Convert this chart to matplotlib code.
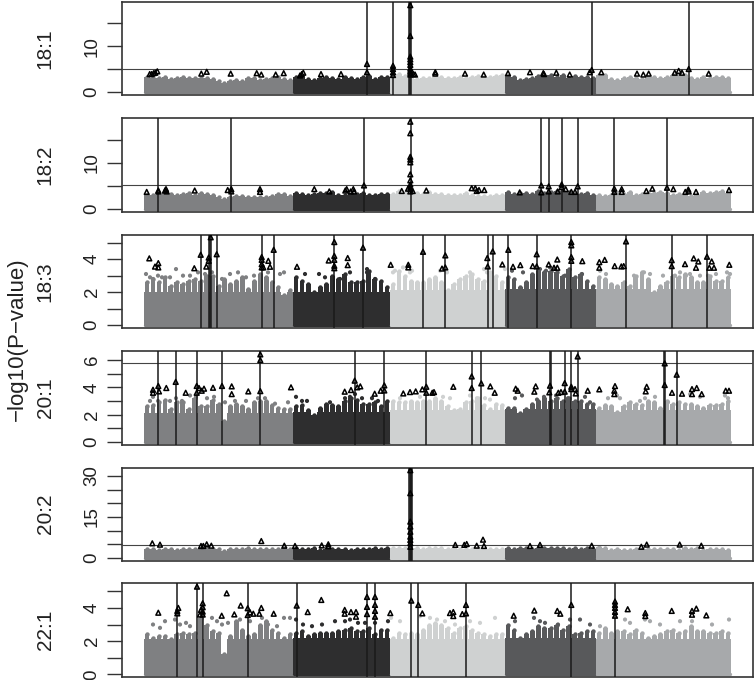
import numpy as np
import matplotlib
matplotlib.use('Agg')
import matplotlib.pyplot as plt

plt.rcParams['font.family'] = ['Liberation Sans', 'DejaVu Sans']

# genome position runs 121.5 .. 753 on the x axis, chromosome blocks below
chrom_edges = [144, 293, 390, 505, 596, 731]
chrom_colors = ['#7f8082', '#2e2e2f', '#cfd1d1', '#58595b', '#a7a9ab']

# top of the cloud, per chromosome
env_181 = [[3.2,3.1,3.0,3.2,2.9,3.0,3.2,3.0,3.1,3.0,3.0,2.9,2.4,2.0,2.5,2.6,2.5,3.0,3.1,2.6,2.8,3.1,3.2,2.9,2.7],
           [3.2,3.3,2.9,2.7,3.1,3.3,3.0,2.9,3.2,3.1,2.8,3.3,3.4,2.8,3.2,3.3],
           [3.3,3.9,3.5,3.4,2.9,3.0,3.1,3.3,3.2,3.0,3.0,3.3,3.1,3.3,3.4,3.2,3.3,3.5,3.6],
           [3.5,3.2,2.6,2.8,3.0,3.5,3.4,3.6,3.2,3.6,3.1,3.5,3.3,3.2,3.1],
           [3.8,3.6,2.9,2.7,3.0,3.2,3.0,2.9,3.3,3.2,3.1,3.3,3.7,3.6,3.6,3.0,2.9,3.2,3.1,3.3,3.2,3.0]]
env_182 = [[3.0,3.1,3.2,3.5,3.3,3.0,3.3,3.4,3.1,3.4,3.3,3.0,2.6,2.1,2.5,2.8,2.9,2.6,2.7,2.5,2.6,2.9,3.2,3.2,2.9],
           [3.4,3.3,3.1,3.2,3.4,3.5,3.6,3.1,3.0,3.2,3.3,3.4,3.0,3.1,3.3,3.2],
           [3.3,3.9,3.5,3.8,3.4,3.2,3.6,3.3,3.2,3.1,3.0,3.1,3.4,3.0,2.9,2.8,2.9,3.0,3.1],
           [3.7,3.2,3.4,3.5,3.3,3.8,3.4,3.6,3.9,3.8,3.7,3.2,3.3,3.4,3.1],
           [3.0,2.8,3.1,3.5,3.3,3.6,3.0,3.2,3.4,3.5,3.6,3.5,3.1,3.3,3.0,2.9,3.1,3.6,3.4,3.7,3.8,3.4]]
env_183 = [[2.6,2.8,2.6,2.9,2.4,2.6,2.5,2.7,2.8,2.7,3.0,3.0,2.4,2.8,2.5,2.7,2.9,2.2,2.7,3.1,2.9,2.6,2.3,1.8,2.1],
           [2.9,2.7,2.5,2.0,2.3,2.5,3.0,2.8,3.1,2.6,2.6,2.7,3.3,2.8,2.7,2.3],
           [2.5,3.3,3.0,2.7,2.6,2.6,2.8,2.9,2.6,2.1,2.5,2.8,3.0,3.1,2.8,2.7,3.2,3.0,2.6],
           [2.9,2.8,2.3,2.6,3.1,3.3,3.2,3.3,3.2,3.0,3.4,2.9,3.1,2.7,2.4],
           [2.9,2.8,2.5,2.4,2.6,2.4,3.0,3.2,2.8,2.0,2.4,2.6,3.0,2.9,3.1,2.9,2.6,2.6,3.0,2.7,2.7,2.9]]
env_201 = [[2.6,2.7,2.9,3.1,2.4,2.9,2.9,2.4,3.2,2.6,2.6,3.1,2.8,1.5,2.6,2.8,2.6,2.4,2.9,3.0,3.0,2.7,2.5,2.4,2.4],
           [2.6,2.7,2.3,2.0,2.5,2.8,2.7,2.6,3.0,3.2,3.1,2.8,2.8,2.9,2.6,3.0],
           [3.0,2.9,2.9,3.0,2.9,3.0,3.0,3.2,3.0,2.6,2.3,2.4,2.9,3.0,3.2,2.7,2.4,2.8,2.7],
           [2.5,2.5,2.1,2.4,2.8,3.0,3.2,3.0,3.2,3.0,3.2,3.0,3.0,2.8,2.8],
           [2.5,2.7,2.6,2.2,2.6,2.9,2.8,2.7,3.0,2.9,2.5,3.0,2.8,2.9,2.8,2.8,2.6,2.5,2.7,2.7,2.8,3.0]]
env_202 = [[3.2,3.3,3.1,3.2,3.3,3.1,3.2,3.3,3.4,3.3,3.2,3.3,3.4,2.4,3.2,3.2,3.4,3.5,3.3,3.4,3.3,3.4,3.4,3.6,3.2],
           [3.6,3.4,3.3,3.5,2.9,3.2,3.4,3.2,3.3,3.0,3.3,3.2,3.4,3.6,3.2,3.7],
           [3.7,3.5,3.6,3.4,3.5,3.3,3.6,3.5,3.7,3.4,3.6,3.3,3.3,3.4,3.5,3.3,3.2,3.3,3.3],
           [3.5,3.4,3.5,3.7,3.4,3.6,3.8,3.5,3.7,3.5,3.4,3.6,3.3,3.7,3.4],
           [4.0,3.6,2.9,3.2,3.1,3.0,3.2,3.2,3.4,3.2,3.3,3.2,3.4,3.1,3.5,3.3,3.5,3.1,3.4,3.2,3.3,3.1]]
env_221 = [[2.4,2.2,2.3,2.3,2.1,2.4,2.5,2.4,2.5,3.4,3.0,2.6,2.5,1.2,2.3,3.2,2.7,2.3,2.4,3.0,3.2,2.7,2.5,2.2,2.4],
           [2.5,2.6,2.3,2.4,2.5,2.5,2.5,2.6,2.7,2.8,2.6,2.6,2.8,2.4,2.7,2.7],
           [2.2,2.5,2.4,2.5,2.4,2.7,3.0,3.1,3.0,2.8,2.5,2.8,2.9,2.7,2.5,2.4,2.3,2.4,2.4],
           [3.0,2.7,2.2,2.4,2.6,2.9,2.8,2.8,3.0,2.7,2.9,2.4,2.5,2.6,2.6],
           [2.5,2.8,2.5,2.6,2.6,2.4,2.7,2.5,2.2,2.3,2.4,2.6,2.7,2.5,2.6,2.9,2.6,2.6,2.5,2.5,2.6,2.5]]

# height the points fill solidly, per chromosome (None = the whole cloud is solid)
solid_183 = [2.0, 2.0, 2.1, 2.2, 2.2]
solid_201 = [2.1, 2.2, 2.3, 2.4, 2.3]
solid_221 = [2.1, 2.2, 2.15, 2.2, 2.1]

# loose dots above the cloud
dots_183_x = [146,150,153,158,162,170,176,183,190,198,205,212,222,230,238,246,254,268,280,284,305,319,325,340,350,367,367,375,393,395,403,410,412,440,447,470,484,487,505,512,523,540,546,550,555,565,582,600,606,634,642,644,650,663,675,680,686,690,700,708,716,727,730]
dots_183_y = [3.1,2.9,2.8,3.0,2.9,2.9,3.4,3.0,3.0,3.2,3.1,3.2,2.8,3.1,3.2,2.9,3.0,3.2,3.1,3.2,3.1,3.1,2.9,2.8,3.2,3.4,3.2,2.8,3.2,3.3,3.5,3.2,3.3,3.3,3.2,3.2,3.4,3.2,3.4,3.3,3.2,3.4,3.3,3.5,3.4,3.0,3.1,3.3,3.1,3.0,3.0,3.2,3.1,3.0,3.0,3.2,3.0,3.1,3.0,3.0,3.1,3.2,3.1]
dots_201_x = [150,153,158,170,176,182,190,196,207,214,225,235,246,258,265,275,288,296,302,307,330,345,350,355,362,372,378,400,420,443,450,470,477,485,490,515,522,537,544,556,568,585,590,608,617,620,640,645,655,668,690,700,725,728]
dots_201_y = [3.0,3.3,3.0,3.0,3.2,3.0,3.4,3.3,3.2,3.3,2.9,3.0,3.0,3.2,3.2,2.8,2.9,3.3,3.0,3.0,2.9,3.2,3.3,3.5,3.2,3.2,3.0,3.2,3.3,3.3,3.2,3.4,3.2,3.2,3.1,3.2,3.4,3.1,3.3,3.4,3.2,3.3,2.9,3.2,3.4,3.2,3.0,3.2,3.3,2.9,3.5,3.3,3.4,3.2]
dots_221_x = [153,160,165,175,180,186,190,212,217,222,228,240,250,262,268,277,284,290,296,303,312,322,335,345,350,358,365,375,388,391,400,420,430,437,445,455,470,480,495,515,534,540,545,558,570,580,590,600,625,630,645,650,660,680,692,712,729]
dots_221_y = [3.0,2.8,3.2,3.3,3.0,3.1,2.9,3.4,3.2,3.0,3.1,3.3,3.2,3.4,3.0,2.9,3.4,3.4,3.3,3.0,2.9,3.0,3.2,3.2,3.3,3.1,3.1,3.1,3.2,3.4,3.2,3.5,3.4,3.3,3.2,3.0,3.2,3.1,3.4,3.2,3.4,3.2,3.1,3.0,3.3,3.3,3.0,2.9,3.3,3.1,3.3,3.2,3.0,3.2,3.2,3.0,3.3]

# triangles
hits_181_x = [149.7,151.7,153.7,155.3,157.3,201.3,206.7,230.7,256.7,261.3,275.7,283.7,300,301.7,303.3,321,341,367,367,393,393,393,393,410.3,410.3,410.3,410.3,410.3,410.3,410.3,410.3,410.3,410.3,413.3,415,435.3,435.3,465,483.7,508,530,543.3,544,556.3,569.7,589.7,591.7,601.3,637,643.3,648.7,674.7,678.7,682,688.7,708.7]
hits_181_y = [3.9,3.9,4.1,4.2,4.5,4.0,4.4,4.0,4.1,3.8,3.8,4.1,3.6,3.9,4.2,3.9,3.9,6.1,4.3,5.7,5.0,4.3,3.7,18.9,12.2,7.7,7.1,6.5,5.9,5.1,4.6,4.2,3.8,3.9,3.8,4.3,4.0,4.0,3.8,4.1,4.3,4.1,3.9,4.2,3.8,4.3,4.8,4.3,4.0,3.8,4.0,4.2,4.6,4.2,5.0,4.0]
hits_182_x = [146.7,158.3,158.3,165,166,166.7,194.7,227.7,231.3,231.3,260,260,314.3,329.3,345.3,346.7,350.7,353.3,354,364,410.3,410.3,410.3,410.3,410.3,410.3,410.3,410.3,410.3,410.3,410.3,408,401.7,412.7,426.3,471.7,475.3,476.7,479,484.3,519.7,541.3,541.3,548.7,548.7,557.7,561.7,561.7,565.7,571.3,575,577.7,614.3,614.3,621.7,621.7,646.3,652.3,667,673.3,685.3,688.3,688.7,696,729]
hits_182_y = [3.7,3.8,4.0,4.0,4.3,3.8,4.0,4.1,4.3,3.8,4.3,3.7,4.3,3.8,4.0,4.3,3.8,4.3,3.8,5.1,18.9,16.4,11.3,10.7,10.1,7.5,6.2,5.3,4.8,4.3,3.8,4.4,3.9,3.9,4.0,4.5,4.5,3.9,4.1,4.1,3.6,5.1,3.6,4.9,3.8,3.8,5.3,4.7,4.3,3.7,3.7,4.9,4.4,3.7,4.3,3.7,3.9,4.4,4.6,4.3,3.7,4.2,3.8,3.7,4.1]
hits_183_x = [149.3,155,158.3,158.3,194.3,200.7,206.3,208.7,208.7,210.7,216.7,261.7,261.7,261.7,261.7,263.3,268.3,270,273.7,297,328.7,334.3,334.3,334.3,334.3,334.3,347.7,347.7,363,390.7,408.3,408.3,423,442,445.3,445.3,487.3,487.7,492.7,502.3,508.3,513,520.3,532.7,536.7,536.7,548.7,554,557.3,557.3,571.3,571.3,571.3,571.3,582.3,599.3,599.3,604.7,614.7,621.3,623.7,626,671.7,671.7,685,693.7,696,698.3,707,709.3,711.7,714,729.3]
hits_183_y = [4.05,3.55,3.76,3.5,3.45,4.27,3.55,4.1,3.9,5.33,4.3,4.13,3.96,3.7,3.5,3.5,3.9,3.54,4.57,3.54,3.92,5.04,4.2,3.96,3.6,3.45,4.07,3.64,4.7,3.66,3.66,3.5,4.45,3.43,4.23,3.5,4.07,3.56,4.47,3.68,4.57,3.54,3.64,3.58,4.3,3.56,3.68,3.48,3.98,3.48,5.04,4.84,4.13,3.9,3.88,3.82,3.48,3.96,3.58,3.56,3.58,5.08,3.94,3.58,3.7,4.05,3.48,3.86,4.15,3.48,3.86,3.48,3.66]
hits_201_x = [153,153,158.3,159,166.3,175.7,185.7,196.7,196.7,199,201.7,204,213,222,231.7,231.7,248.3,260.3,260.3,260.3,291,344.7,351,354.7,357.3,360.3,374.7,380.7,384.3,384.3,403.3,410,415.7,422.3,426.3,426.3,432.3,434,453.3,471.7,471.7,481.3,490.3,494.7,515.7,517.7,534.3,535.7,549.3,550,558.3,561,564.7,564.7,571.3,571.3,575,577.7,575.7,587.7,599.3,615,614.3,614.3,646.7,645.7,664.7,664.7,676.7,672,682,692,692,696.7,701.7,725.7,729]
hits_201_y = [3.82,3.6,4.1,3.7,3.95,4.4,3.6,4.1,3.6,3.95,3.75,3.9,3.97,4.1,4.07,3.5,3.7,6.42,6.0,3.72,4.0,3.68,3.8,4.49,4.0,4.07,3.53,3.75,4.14,3.77,3.55,3.65,3.7,3.85,4.04,3.6,3.6,3.65,4.04,4.8,3.95,4.29,4.07,3.6,3.9,3.75,3.68,4.07,3.63,4.12,3.6,3.65,4.31,3.68,4.04,3.87,3.87,6.27,3.55,3.75,3.85,4.09,3.75,3.5,4.04,3.7,5.76,4.17,4.93,3.6,3.53,3.87,3.5,3.95,3.5,3.75,3.75]
hits_202_x = [152.3,160,201,203.3,206.7,211.3,261.3,284.3,295,321.7,328.3,328.3,410.3,410.3,410.3,410.3,410.3,410.3,410.3,410.3,410.3,455.3,464.3,466.7,476.7,483,484,530,540,591.7,641.3,646.7,679.7,701.3]
hits_202_y = [5.37,4.88,4.4,4.4,5.0,4.5,6.2,4.5,4.4,4.6,5.0,4.3,32.1,23.7,13.3,11.5,9.6,7.8,6.6,5.4,4.1,4.8,4.8,5.1,4.5,6.7,4.4,4.4,4.8,4.5,4.1,4.9,4.9,4.5]
hits_221_x = [158.3,177.3,178.3,177.3,197,200,201,202.7,202.7,202.7,202.7,226.7,221.7,234.3,240.7,247.7,247.7,250,253.3,259.3,261.3,273.7,296.7,307.7,321.3,344.7,344.7,351,356,356,367,367,367,375,375,375,375,390.3,411.3,418.3,422.3,450,453.3,453.3,462.3,466,466,513.7,534.3,557.3,560.3,571.3,615,615,615,615,615,627.7,645.3,645.3,671.7,692,692,696.3,706.3]
hits_221_y = [3.71,3.67,4.0,3.82,5.28,3.6,3.88,4.28,4.04,3.78,3.6,4.88,3.53,3.61,4.14,3.98,3.57,3.73,3.65,3.65,4.0,3.65,4.14,3.75,4.48,3.88,3.65,3.75,3.75,3.47,4.66,4.06,3.63,4.66,4.18,3.82,3.47,3.69,4.44,4.18,3.67,3.69,3.75,3.51,3.63,4.18,3.67,3.53,3.84,3.82,3.65,4.18,4.38,4.18,4.0,3.76,3.53,3.92,3.69,3.51,3.82,3.82,3.59,3.96,3.55]

# vertical hit lines
lines_181 = [367, 393, 409.3, 410.2, 411.1, 591.7, 688.7]
lines_182 = [158.3, 231.3, 364, 410.5, 541.3, 548.7, 561.7, 577.7, 614.3, 667]
lines_183 = [200.7, 208.7, 209.7, 210.7, 216.7, 261.7, 273.7, 334.3, 363, 423, 445, 487.7, 492.7, 508.3, 536.7, 571.3, 626, 671.7, 707]
lines_201 = [158.3, 175.7, 196.7, 222, 260.3, 354.7, 384.3, 426.3, 471.7, 481.3, 549.5, 550.5, 564.7, 571.3, 577.7, 664.3, 665.2, 676.7]
lines_202 = [409, 409.8, 410.6, 411.4, 412]
lines_221 = [177.3, 197, 202.7, 247.7, 296.7, 367, 375, 411.3, 418.3, 466, 571.3, 615]

names = ['18:1', '18:2', '18:3', '20:1', '20:2', '22:1']
envs = [env_181, env_182, env_183, env_201, env_202, env_221]
solids = [None, None, solid_183, solid_201, None, solid_221]
dots = [None, None, (dots_183_x, dots_183_y), (dots_201_x, dots_201_y), None, (dots_221_x, dots_221_y)]
hits = [(hits_181_x, hits_181_y), (hits_182_x, hits_182_y), (hits_183_x, hits_183_y),
        (hits_201_x, hits_201_y), (hits_202_x, hits_202_y), (hits_221_x, hits_221_y)]
vlines = [lines_181, lines_182, lines_183, lines_201, lines_202, lines_221]
thresholds = [5.0, 5.15, None, 5.76, 4.65, None]
ylims = [(-0.65, 19.7), (-0.65, 19.7), (-0.18, 5.5), (-0.24, 6.67), (-1.1, 33.1), (-0.16, 5.5)]
yticks = [[0, 5, 10, 15], [0, 5, 10, 15], [0, 1, 2, 3, 4, 5], [0, 1, 2, 3, 4, 5, 6],
          [0, 5, 10, 15, 20, 25, 30], [0, 1, 2, 3, 4, 5]]
ylabels = [[0, 10], [0, 10], [0, 2, 4], [0, 2, 4, 6], [0, 15, 30], [0, 2, 4]]
tops = [1.5, 118, 234.5, 351, 467.5, 583]
bottoms = [95, 212, 328, 445, 561, 677]

W, H = 755, 680
fig = plt.figure(figsize=(W / 100, H / 100), dpi=100)

for i in range(6):
    ax = fig.add_axes([121.5 / W, 1 - bottoms[i] / H, (753 - 121.5) / W, (bottoms[i] - tops[i]) / H])
    ax.set_xlim(121.5, 753)
    ax.set_ylim(*ylims[i])

    for c in range(5):
        h = np.array(envs[i][c])
        left, right = chrom_edges[c], chrom_edges[c + 1]
        edges = np.linspace(left, right, len(h) + 1)
        mids = (edges[:-1] + edges[1:]) / 2
        bin_w = edges[1] - edges[0]
        col = chrom_colors[c]
        if solids[i] is None:
            ax.bar(mids, h, width=bin_w, color=col, linewidth=0, zorder=2)
        else:
            # solid part, then spikes up to the cloud top
            ax.bar(mids, np.minimum(h, solids[i][c]), width=bin_w, color=col, linewidth=0, zorder=2)
            ax.bar(mids, h, width=bin_w * 0.78, color=col, linewidth=0, zorder=2)
        ax.plot([left + 1, right - 1], [0, 0], color=col, lw=2.4, solid_capstyle='round', zorder=2)
        ax.scatter(mids, h, s=10, color=col, linewidths=0, zorder=2)

    if dots[i] is not None:
        dx = np.array(dots[i][0])
        idx = np.clip(np.searchsorted(chrom_edges, dx) - 1, 0, 4)
        ax.scatter(dx, dots[i][1], s=9, c=[chrom_colors[k] for k in idx], linewidths=0, zorder=2)

    if thresholds[i] is not None:
        ax.axhline(thresholds[i], color='#444444', lw=0.8, zorder=3)
    for x in vlines[i]:
        ax.axvline(x, color='#1a1a1a', lw=1.1, zorder=4)
    ax.scatter(hits[i][0], hits[i][1], marker='^', s=12, facecolors='none', edgecolors='black',
               linewidths=1.1, zorder=5)

    for s in ax.spines.values():
        s.set_color('#333333')
        s.set_linewidth(1.2)
    ax.set_xticks([])
    ax.set_yticks(yticks[i])
    ax.set_yticklabels([str(t) if t in ylabels[i] else '' for t in yticks[i]],
                       rotation=90, va='center', fontsize=13.5, color='#222222')
    ax.tick_params(axis='y', length=11, width=1.0, color='#333333', pad=4)
    ax.text(45 / W, 1 - (tops[i] + bottoms[i]) / 2 / H, names[i], transform=fig.transFigure, rotation=90,
            ha='center', va='center', fontsize=15, color='#222222')

fig.text(17 / W, 1 - 339 / H, '\u2212log10(P\u2212value)', rotation=90, ha='center', va='center',
         fontsize=16, color='#222222')

fig.savefig('out.png', dpi=100)
